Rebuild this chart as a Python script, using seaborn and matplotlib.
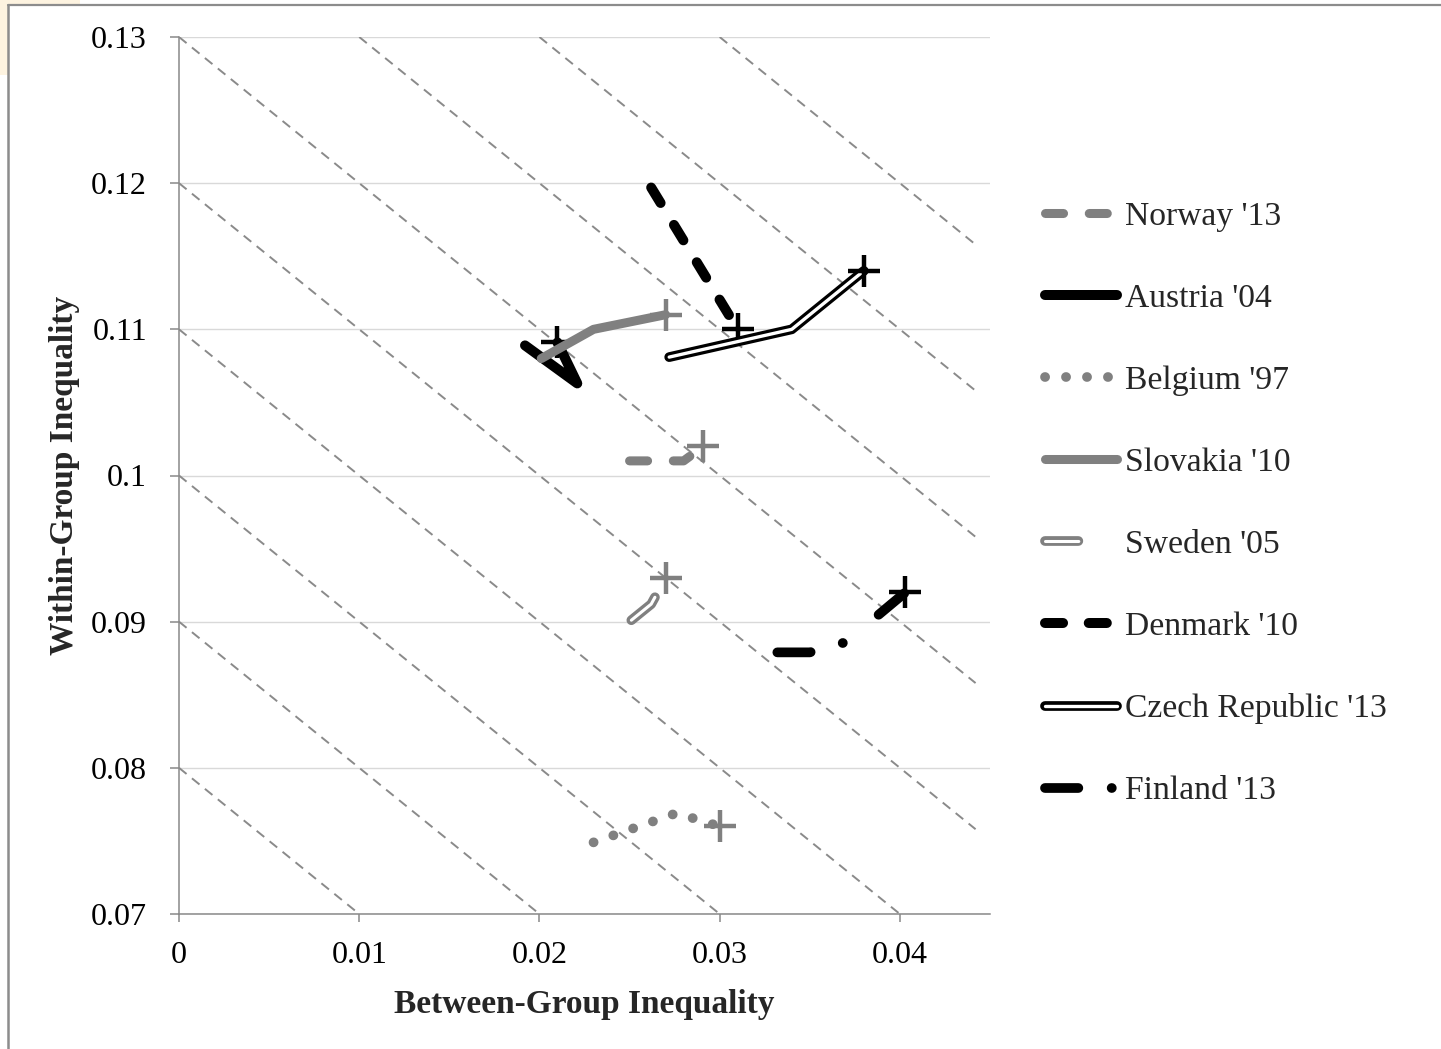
import matplotlib
matplotlib.use("Agg")
import matplotlib.pyplot as plt
import matplotlib.patheffects as pe
from matplotlib.lines import Line2D
from matplotlib.patches import Rectangle
from matplotlib.font_manager import FontProperties
import seaborn as sns

# ---- data: (between-group, within-group) inequality paths ----
norway_x = [0.0250, 0.0280, 0.0291]
norway_y = [0.1010, 0.1010, 0.1020]

austria_x = [0.0192, 0.0221, 0.0210]
austria_y = [0.1089, 0.1063, 0.1091]

belgium_x = [0.0230, 0.0276, 0.0300]
belgium_y = [0.0749, 0.0769, 0.0760]

slovakia_x = [0.0201, 0.0230, 0.0270]
slovakia_y = [0.1080, 0.1100, 0.1110]

sweden_x = [0.0251, 0.0262, 0.0270]
sweden_y = [0.0901, 0.0912, 0.0930]

denmark_x = [0.0262, 0.0310]
denmark_y = [0.1197, 0.1100]

czech_x = [0.0272, 0.0340, 0.0380]
czech_y = [0.1081, 0.1100, 0.1140]

finland_x = [0.0332, 0.0350, 0.0370, 0.0403]
finland_y = [0.0879, 0.0879, 0.0886, 0.0920]

labels = ["Norway '13", "Austria '04", "Belgium '97", "Slovakia '10",
          "Sweden '05", "Denmark '10", "Czech Republic '13", "Finland '13"]

# iso-inequality lines: between + within = constant total
iso_totals = [0.08, 0.09, 0.10, 0.11, 0.12, 0.13, 0.14, 0.15, 0.16]
iso_x_end = 0.0442

x_ticks = [0, 0.01, 0.02, 0.03, 0.04]
x_tick_labels = ["0", "0.01", "0.02", "0.03", "0.04"]
y_ticks = [0.07, 0.08, 0.09, 0.10, 0.11, 0.12, 0.13]
y_tick_labels = ["0.07", "0.08", "0.09", "0.1", "0.11", "0.12", "0.13"]

# ---- styling ----
sns.set_theme(style="white")
plt.rcParams["font.family"] = ["Liberation Serif", "DejaVu Serif"]
plt.rcParams["lines.scale_dashes"] = False

GRAY = "#808080"
BLACK = "#000000"
W, H = 1441, 1049
fig = plt.figure(figsize=(W / 100, H / 100), dpi=100)
fig.patch.set_facecolor("white")

# plot area
ax = fig.add_axes([179 / W, 1 - 914 / H, 811 / W, 877 / H])
ax.set_facecolor("white")
ax.set_xlim(0, 0.045)
ax.set_ylim(0.07, 0.13)

# iso lines
for t in iso_totals:
    xs = [max(0.0, t - 0.13), min(iso_x_end, t - 0.07)]
    ys = [t - v for v in xs]
    sns.lineplot(x=xs, y=ys, ax=ax, sort=False, estimator=None, color="#8a8a8a",
                 linewidth=1.4, legend=False, zorder=1.5)
    ln = ax.lines[-1]
    ln.set_dashes((7, 5))

series = [
    # x, y, colour, linewidth, dashes, double-line outline colour, marker colour
    (norway_x, norway_y, GRAY, 6.5, (13, 18.5), None, GRAY),
    (austria_x, austria_y, BLACK, 7.2, None, None, BLACK),
    (belgium_x, belgium_y, GRAY, 7.0, (0.1, 15), None, GRAY),
    (slovakia_x, slovakia_y, GRAY, 6.5, None, None, GRAY),
    (sweden_x, sweden_y, "white", 2.2, (24, 32), GRAY, GRAY),
    (denmark_x, denmark_y, BLACK, 7.2, (13, 18.5), None, BLACK),
    (czech_x, czech_y, "white", 2.4, None, BLACK, BLACK),
    (finland_x, finland_y, BLACK, 7.0, (24, 24, 0.1, 33), None, BLACK),
]

handles = []
for i, (xs, ys, col, lw, dash, outline, mcol) in enumerate(series):
    z = 3 + i
    sns.lineplot(x=xs, y=ys, ax=ax, sort=False, estimator=None, color=col,
                 linewidth=lw, legend=False, zorder=z)
    ln = ax.lines[-1]
    ln.set_solid_capstyle("round")
    ln.set_dash_capstyle("round")
    ln.set_solid_joinstyle("round")
    ln.set_dash_joinstyle("round")
    effects = None
    if outline is not None:
        effects = [pe.Stroke(linewidth=7.0, foreground=outline), pe.Normal()]
        ln.set_path_effects(effects)
    if dash is not None:
        ln.set_dashes(dash)
    sns.scatterplot(x=[xs[-1]], y=[ys[-1]], ax=ax, marker="+", s=530,
                    color=mcol, linewidth=3.2, legend=False, zorder=z + 0.5)

    h = Line2D([], [], color=col, linewidth=lw, solid_capstyle="round",
               dash_capstyle="round")
    if dash is not None:
        h.set_dashes(dash)
    if effects is not None:
        h.set_path_effects(effects)
    handles.append(h)

# axes cosmetics
ax.set_xticks(x_ticks)
ax.set_xticklabels(x_tick_labels)
ax.set_yticks(y_ticks)
ax.set_yticklabels(y_tick_labels)
ax.tick_params(axis="both", labelsize=23, colors="#898989", labelcolor="black",
               width=1.1, direction="out")
ax.tick_params(axis="x", length=5.8, pad=13.5, bottom=True)
ax.tick_params(axis="y", length=6.5, pad=16.5, left=True)
for side in ("top", "right"):
    ax.spines[side].set_visible(False)
for side in ("left", "bottom"):
    ax.spines[side].set_color("#898989")
    ax.spines[side].set_linewidth(1.1)
ax.yaxis.grid(True, color="#d9d9d9", linewidth=1.0)
ax.xaxis.grid(False)
ax.set_axisbelow(True)

ax.set_xlabel("Between-Group Inequality", fontsize=24, fontweight="bold")
ax.set_ylabel("Within-Group Inequality", fontsize=24, fontweight="bold")
ax.xaxis.set_label_coords(0.5, (914 - 989) / 877)
ax.yaxis.set_label_coords((80 - 179) / 811, 0.5)

fig.legend(handles, labels, loc="center left",
           bbox_to_anchor=(1044.5 / W, 1 - 504 / H), frameon=False,
           borderpad=0, borderaxespad=0, handlelength=2.15, handletextpad=0.25,
           labelspacing=1.53,
           prop=FontProperties(family="Liberation Serif", size=24.2))

# outer chart frame
fig.add_artist(Rectangle((0, 1 - 75 / H), 8 / W, 75 / H, transform=fig.transFigure,
                         facecolor="#fdf3e0", edgecolor="none", zorder=0))
fig.add_artist(Rectangle((0, 1 - 5 / H), 80 / W, 5 / H, transform=fig.transFigure,
                         facecolor="#fdf3e0", edgecolor="none", zorder=0))
fig.add_artist(Line2D([8 / W, 8 / W], [0, 1 - 5 / H], transform=fig.transFigure,
                      color="#8c8c8c", linewidth=1.8))
fig.add_artist(Line2D([8 / W, 1], [1 - 5 / H, 1 - 5 / H], transform=fig.transFigure,
                      color="#8c8c8c", linewidth=1.6))

fig.savefig("out.png", dpi=100, facecolor="white")
